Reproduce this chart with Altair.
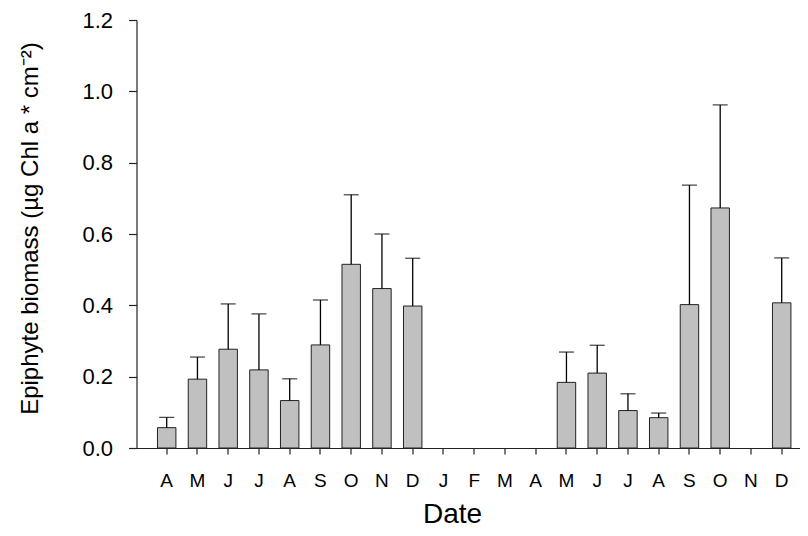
import altair as alt
import pandas as pd

months = ["A", "M", "J", "J", "A", "S", "O", "N", "D", "J", "F", "M",
          "A", "M", "J", "J", "A", "S", "O", "N", "D"]
means = [0.057, 0.193, 0.277, 0.219, 0.133, 0.289, 0.515, 0.447, 0.398,
         None, None, None, None,
         0.184, 0.210, 0.105, 0.085, 0.402, 0.673, None, 0.407]
uppers = [0.086, 0.255, 0.404, 0.376, 0.194, 0.415, 0.710, 0.600, 0.532,
          None, None, None, None,
          0.269, 0.288, 0.152, 0.098, 0.737, 0.962, None, 0.533]
y_ticks = [0.0, 0.2, 0.4, 0.6, 0.8, 1.0, 1.2]

positions = list(range(len(months)))
df = pd.DataFrame({
    "idx": positions,
    "month": months,
    "mean": means,
    "upper": uppers,
}).dropna()

FONT = "Liberation Sans"
label_expr = "[" + ",".join("'%s'" % m for m in months) + "][datum.value]"

x_scale = alt.Scale(domain=positions, paddingInner=0.4, paddingOuter=0.4885, align=0.698)

x_enc = alt.X(
    "idx:O",
    scale=x_scale,
    axis=alt.Axis(
        labelExpr=label_expr,
        labelAngle=0,
        title="Date",
        grid=False,
        tickSize=6,
        labelPadding=17,
        labelFontSize=19,
        labelOverlap=False,
        titleFontSize=28,
        titleX=315.5,
        titleY=74,
        titleAlign="center",
        titleBaseline="alphabetic",
    ),
)

y_enc = alt.Y(
    "mean:Q",
    scale=alt.Scale(domain=[0, 1.2], nice=False, zero=True),
    axis=alt.Axis(
        values=y_ticks,
        format=".1f",
        title="Epiphyte biomass (µg Chl a * cm⁻²)",
        grid=False,
        tickSize=8,
        labelPadding=16,
        labelFontSize=22,
        labelFlush=False,
        titleFontSize=24,
        titleAngle=-90,
        titleX=-94,
        titleY=208,
        titleAlign="center",
        titleBaseline="bottom",
    ),
)

base = alt.Chart(df)

bars = base.mark_bar(fill="#c0c0c0", stroke="#222222", strokeWidth=1).encode(
    x=x_enc, y=y_enc
)
err = base.mark_rule(color="black", strokeWidth=1.3).encode(
    x=alt.X("idx:O", scale=x_scale), y="mean:Q", y2="upper:Q"
)
caps = base.mark_tick(orient="horizontal", size=15, thickness=1.3, color="black").encode(
    x=alt.X("idx:O", scale=x_scale), y="upper:Q"
)

chart = (
    alt.layer(bars, err, caps)
    .properties(
        width=663.5,
        height=428,
        autosize=alt.AutoSizeParams(type="none"),
        padding={"left": 128.5, "top": 12, "right": 0, "bottom": 80},
    )
    .configure_view(stroke=None)
    .configure_axis(
        domainColor="#222222",
        domainWidth=1.2,
        tickColor="#222222",
        tickWidth=1.2,
        labelColor="black",
        titleColor="black",
        labelFont=FONT,
        titleFont=FONT,
        titleFontWeight="normal",
    )
)

chart.save("out.html", embed_options={"renderer": "svg", "actions": False})
